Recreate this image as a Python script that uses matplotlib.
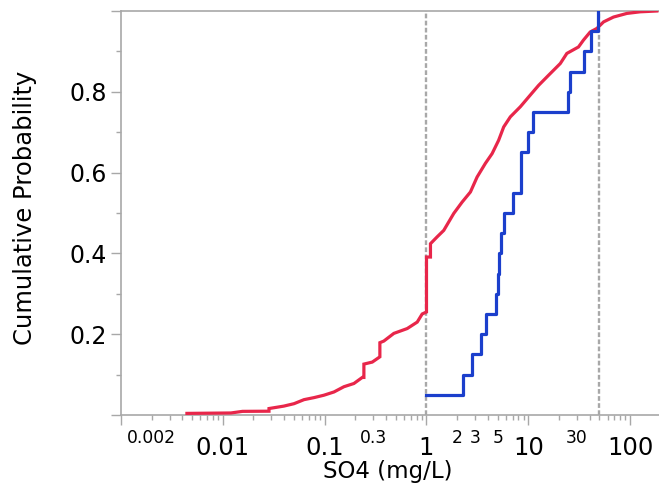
import matplotlib
matplotlib.use('Agg')
import matplotlib.pyplot as plt
from matplotlib.ticker import FixedLocator, FixedFormatter

# ---- data ----
red_so4 = [0.00444, 0.0120, 0.0156, 0.0284, 0.0284, 0.0397, 0.0500, 0.0627, 0.0785,
           0.0984, 0.1234, 0.1546, 0.1938, 0.2342, 0.2428, 0.2428, 0.2936, 0.3485,
           0.3485, 0.381, 0.478, 0.647, 0.811, 0.907, 1.0, 1.0, 1.094, 1.094,
           1.273, 1.478, 1.853, 2.238, 2.70, 3.14, 3.79, 4.41, 5.11, 5.73, 6.66,
           8.35, 10.46, 12.62, 15.81, 20.6, 23.9, 31.1, 34.8, 40.5, 47.2, 54.8,
           68.6, 92.8, 125.3, 182.8]
red_prob = [0.004, 0.005, 0.009, 0.0094, 0.016, 0.022, 0.028, 0.038, 0.043,
            0.049, 0.057, 0.070, 0.078, 0.093, 0.093, 0.126, 0.131, 0.144,
            0.179, 0.183, 0.202, 0.214, 0.230, 0.250, 0.255, 0.391, 0.391, 0.424,
            0.441, 0.457, 0.499, 0.527, 0.552, 0.589, 0.623, 0.647, 0.680, 0.713, 0.738,
            0.763, 0.792, 0.816, 0.841, 0.870, 0.895, 0.911, 0.928, 0.948, 0.957, 0.973,
            0.985, 0.994, 0.998, 1.0]

blue_so4 = [1.0, 2.29, 2.81, 3.44, 3.88, 4.86, 5.0, 5.16, 5.40, 5.73,
            7.0, 8.4, 8.5, 9.85, 11.0, 24.8, 25.8, 35.4, 41.2, 47.8]
blue_prob = [0.05, 0.10, 0.15, 0.20, 0.25, 0.30, 0.35, 0.40, 0.45, 0.50,
             0.55, 0.60, 0.65, 0.70, 0.75, 0.80, 0.85, 0.90, 0.95, 1.00]

ref_lines = [1, 50]

x_major = [0.001, 0.01, 0.1, 1, 10, 100]
x_major_labels = ['', '0.01', '0.1', '1', '10', '100']
x_minor = [m * d for d in [0.001, 0.01, 0.1, 1, 10, 100] for m in range(2, 10)]
x_minor_labeled = {0.002: '0.002', 0.3: '0.3', 2: '2', 3: '3', 5: '5', 30: '30'}

y_major = [0, 0.2, 0.4, 0.6, 0.8, 1.0]
y_major_labels = ['', '0.2', '0.4', '0.6', '0.8', '']
y_minor = [0.1, 0.3, 0.5, 0.7, 0.9]

RED = '#E8264A'
BLUE = '#1B3FCC'
GRAY = '#A8A8A8'

fig = plt.figure(figsize=(6.59, 4.84), dpi=100)
ax = fig.add_axes([121 / 659, 69 / 484, 538 / 659, 404 / 484])

for r in ref_lines:
    ax.axvline(r, color=GRAY, lw=1.7, linestyle=(0, (2.0, 1.0)), zorder=1)

ax.plot(red_so4, red_prob, color=RED, lw=2.3, zorder=3, solid_joinstyle='miter')
ax.plot(blue_so4, blue_prob, color=BLUE, lw=2.3, drawstyle='steps-post', zorder=4)

ax.set_xscale('log')
ax.set_xlim(0.001, 192)
ax.set_ylim(0, 1.0)

ax.xaxis.set_major_locator(FixedLocator(x_major))
ax.xaxis.set_major_formatter(FixedFormatter(x_major_labels))
ax.xaxis.set_minor_locator(FixedLocator(x_minor))
ax.xaxis.set_minor_formatter(FixedFormatter([x_minor_labeled.get(round(v, 6), '') for v in x_minor]))

ax.yaxis.set_major_locator(FixedLocator(y_major))
ax.yaxis.set_major_formatter(FixedFormatter(y_major_labels))
ax.yaxis.set_minor_locator(FixedLocator(y_minor))

for side in ['left', 'bottom', 'top']:
    ax.spines[side].set_color(GRAY)
    ax.spines[side].set_linewidth(1.2)
ax.spines['right'].set_visible(False)

ax.tick_params(axis='both', which='major', length=7.3, width=1.0, color=GRAY, direction='out')
ax.tick_params(axis='both', which='minor', length=3.8, width=1.0, color=GRAY, direction='out')
ax.tick_params(axis='x', which='major', labelsize=17.5, pad=7.5)
ax.tick_params(axis='x', which='minor', labelsize=12.3, pad=6.3)
ax.tick_params(axis='y', which='major', labelsize=17, pad=3)
ax.tick_params(top=False, which='both')

ax.set_xlabel('SO4 (mg/L)', fontsize=16.5)
ax.set_ylabel('Cumulative Probability', fontsize=17.5)
ax.xaxis.label.set_va('baseline')
ax.xaxis.set_label_coords(0.496, (415 - 478) / 404)
ax.yaxis.set_label_coords(-0.156, 0.514)

fig.savefig('out.png', dpi=100)
